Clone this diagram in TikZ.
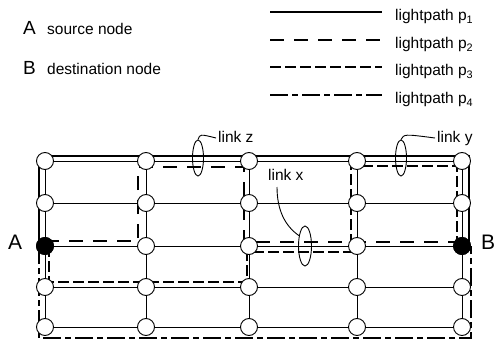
\documentclass[tikz,border=0pt]{standalone}
\usepackage{fontspec}
\setmainfont{Liberation Sans}
\usetikzlibrary{shapes.geometric}
\pgfdeclarelayer{background}
\pgfsetlayers{background,main}
\begin{document}
\begin{tikzpicture}[x=1pt,y=-1pt,
  gnode/.style={circle, draw, fill=white, minimum size=17pt, inner sep=0pt, line width=0.9pt},
  endnode/.style={gnode, fill=black},
  gridline/.style={line width=0.8pt},
  pone/.style={line width=1.6pt},
  ptwo/.style={line width=1.6pt, dash pattern=on 14pt off 10pt},
  pthree/.style={line width=1.8pt, dash pattern=on 11pt off 4pt},
  pfour/.style={line width=1.4pt, dash pattern=on 18pt off 4pt on 6pt off 4pt},
  txt/.style={inner sep=0pt, anchor=base west, font=\fontsize{15.5}{18}\selectfont},
  bigtxt/.style={inner sep=0pt, anchor=base west, font=\fontsize{19}{22}\selectfont},
  hugetxt/.style={inner sep=0pt, anchor=base west, font=\fontsize{21}{24}\selectfont},
  linkell/.style={draw, ellipse, line width=0.9pt, inner sep=0pt},
  leader/.style={line width=0.9pt},
]
\useasboundingbox (0,0) rectangle (494,347);

% legend
\node[bigtxt] (legA) at (23,35) {A};
\node[txt] (legAt) at (47,35) {source node};
\node[bigtxt] (legB) at (23,75) {B};
\node[txt] (legBt) at (47,75) {destination node};

\coordinate (l1a) at (270,12);  \coordinate (l1b) at (382,12);
\coordinate (l2a) at (270,40);  \coordinate (l2b) at (382,40);
\coordinate (l3a) at (270,67);  \coordinate (l3b) at (382,67);
\coordinate (l4a) at (270,95);  \coordinate (l4b) at (382,95);
\draw[pone] (l1a) -- (l1b);
\draw[ptwo] (l2a) -- (l2b);
\draw[pthree] (l3a) -- (l3b);
\draw[pfour] (l4a) -- (l4b);
\node[txt] (lt1) at (395,20.5) {lightpath p\textsubscript{1}};
\node[txt] (lt2) at (395,48.5) {lightpath p\textsubscript{2}};
\node[txt] (lt3) at (395,75.5) {lightpath p\textsubscript{3}};
\node[txt] (lt4) at (395,103.5) {lightpath p\textsubscript{4}};

% grid nodes
\foreach \c/\x in {1/45,2/146,3/249,4/357,5/462}
  \foreach \r/\y in {1/161,2/203,3/246,4/287,5/327}
    \node[gnode] (n\c\r) at (\x,\y) {};
\node[endnode] (A) at (n13) {};
\node[endnode] (B) at (n53) {};
\node[hugetxt] (Alab) at (8,249) {A};
\node[hugetxt] (Blab) at (481,249) {B};

\begin{pgfonlayer}{background}
% grid links
\foreach \r in {1,...,5}
  \draw[gridline] (n1\r) -- (n2\r) -- (n3\r) -- (n4\r) -- (n5\r);
\foreach \c in {1,...,5}
  \draw[gridline] (n\c1) -- (n\c2) -- (n\c3) -- (n\c4) -- (n\c5);
% lightpath p1
\draw[pone] ([shift={(-6,0)}]A.center) -- ([shift={(-6,-5)}]n11.center)
  -- ([shift={(7,-5)}]n51.center) -- ([shift={(7,0)}]B.center);
% lightpath p2
\draw[ptwo] ([shift={(0,-5)}]A.center) -- ([shift={(-8,-5)}]n23.center)
  -- ([shift={(-8,6)}]n21.center) -- ([shift={(-5,6)}]n31.center)
  -- ([shift={(-5,-4)}]n33.center) -- ([shift={(0,-4)}]B.center);
% lightpath p3
\draw[pthree] ([shift={(4,0)}]A.center) -- ([shift={(4,-5)}]n14.center)
  -- ([shift={(-2,-5)}]n34.center) -- ([shift={(-2,6)}]n33.center)
  -- ([shift={(-6,6)}]n43.center) -- ([shift={(-6,5)}]n41.center)
  -- ([shift={(-5,5)}]n51.center) -- ([shift={(-5,0)}]B.center);
% lightpath p4
\draw[pfour] ([shift={(-6,0)}]A.center) -- ([shift={(-6,11)}]n15.center)
  -- ([shift={(9,11)}]n55.center) -- ([shift={(9,0)}]B.center);
\end{pgfonlayer}

% shared links
\node[linkell, minimum width=11pt, minimum height=36pt] (lz) at (198,158) {};
\node[linkell, minimum width=11pt, minimum height=36pt] (ly) at (401,158) {};
\node[linkell, minimum width=13pt, minimum height=40pt] (lx) at (305,246) {};
\node[txt] (tz) at (218,143) {link z};
\node[txt] (ty) at (437,143) {link y};
\node[txt] (tx) at (268,181) {link x};
\draw[leader] (lz.north) .. controls (200,134) .. ([shift={(-2,-5)}]tz.base west);
\draw[leader] (ly.north) .. controls (404,134) .. ([shift={(-2,-5)}]ty.base west);
\draw[leader] ([shift={(9,6)}]tx.base west) .. controls (277,210) and (285,226) .. (lx.120);
\end{tikzpicture}
\end{document}
